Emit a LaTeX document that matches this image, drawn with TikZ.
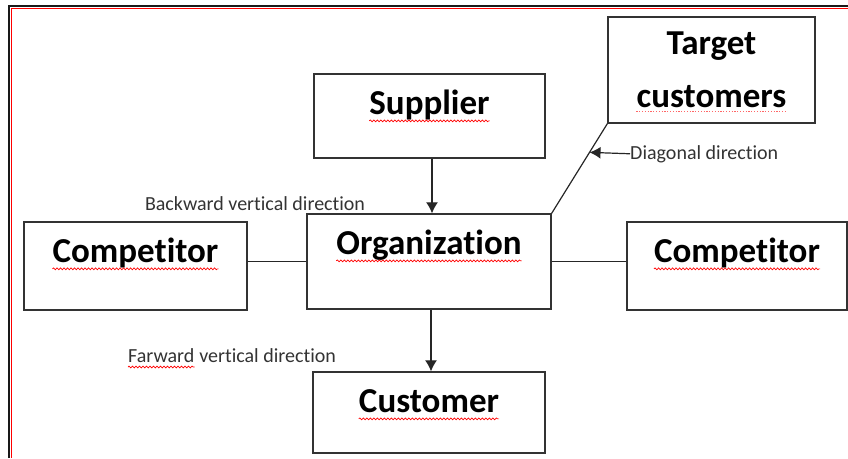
\documentclass[tikz,border=0pt]{standalone}
\usepackage{fontspec}
\setmainfont{Carlito}[Ligatures=NoCommon, RawFeature=-liga]
\usepackage{tikz}
\usetikzlibrary{calc, arrows, arrows.meta, decorations.pathmorphing}
\newcommand{\boxfont}{\fontsize{35}{42}\selectfont\bfseries}
\newcommand{\notefont}{\fontsize{20}{24}\selectfont}
\tikzstyle{blk}=[draw=black!80, line width=1.3pt, inner sep=0pt]
\tikzstyle{ttl}=[font=\boxfont, inner sep=0pt, anchor=base, text=black]
\tikzstyle{note}=[font=\notefont, inner sep=0pt, text=black!80]
\tikzstyle{link}=[black!85, line width=1.2pt]
\tikzstyle{spell}=[red, line width=0.7pt, decorate, decoration={snake, amplitude=0.9pt, segment length=3.5pt}]
\tikzstyle{gram}=[red!60, line width=0.8pt, dash pattern=on 1.2pt off 1.6pt]

\begin{document}
\begin{tikzpicture}[x=1pt, y=-1pt, >={Latex[length=11pt,width=12pt]}]
  \useasboundingbox (0,0) rectangle (848,458);
  % page frame
  \draw[black!90, line width=1.4pt] (9,458) -- (9,6) -- (848,6);
  \draw[red, line width=1pt] (11,458) -- (11,8) -- (848,8);

  % boxes
  \node[blk, minimum width=231pt, minimum height=84pt,
        label={[ttl, name=suplab, yshift=-41pt]north:Supplier}] (sup) at (429.5,116) {};
  \node[blk, minimum width=207pt, minimum height=106pt,
        label={[ttl, name=tgtlab, yshift=-38pt]north:Target},
        label={[ttl, name=cuslab, yshift=-91pt]north:customers}] (tgt) at (711.5,70) {};
  \node[blk, minimum width=244pt, minimum height=95pt,
        label={[ttl, name=orglab, yshift=-41pt]north:Organization}] (org) at (429,261.5) {};
  \node[blk, minimum width=223pt, minimum height=88pt,
        label={[ttl, name=cmlab, yshift=-41pt]north:Competitor}] (compl) at (135.5,266) {};
  \node[blk, minimum width=220pt, minimum height=88pt,
        label={[ttl, name=cmrlab, yshift=-41pt]north:Competitor}] (compr) at (737,266) {};
  \node[blk, minimum width=232pt, minimum height=81pt,
        label={[ttl, name=custlab, yshift=-41pt]north:Customer}] (cust) at (429,412.5) {};

  % red underlines
  \foreach \l in {suplab, orglab, cmlab, cmrlab, custlab}
    \draw[spell] ([yshift=-6.5pt]\l.base west) -- ([yshift=-6.5pt]\l.base east);
  \draw[gram] ([yshift=-4pt]cuslab.base west) -- ([yshift=-4pt]cuslab.base east);

  % connectors
  \draw[link, ->] ([xshift=2.5pt]sup.south) -- ([xshift=3pt]org.north);
  \draw[link, ->] ([xshift=2pt]org.south) -- ([xshift=2pt]cust.north);
  \draw[link] (compl.east |- org) -- (org.west);
  \draw[link] (org.east) -- (compr.west |- org);
  \draw[link] (org.north east) -- coordinate[pos=0.68] (dg) (tgt.south west);

  % notes
  \node[note, anchor=base west] (dgtxt) at (630,159) {Diagonal direction};
  \draw[link, ->] (dgtxt.west) -- (dg);
  \node[note, anchor=base] (bwd) at (255,210) {Backward vertical direction};
  \node[note, anchor=base west] (fwd) at (128,362) {Farward};
  \node[note, anchor=base west] (fwdrest) at (fwd.base east) {\ vertical direction};
  \draw[spell] ([yshift=-5pt]fwd.base west) -- ([yshift=-5pt]fwd.base east);
\end{tikzpicture}
\end{document}
